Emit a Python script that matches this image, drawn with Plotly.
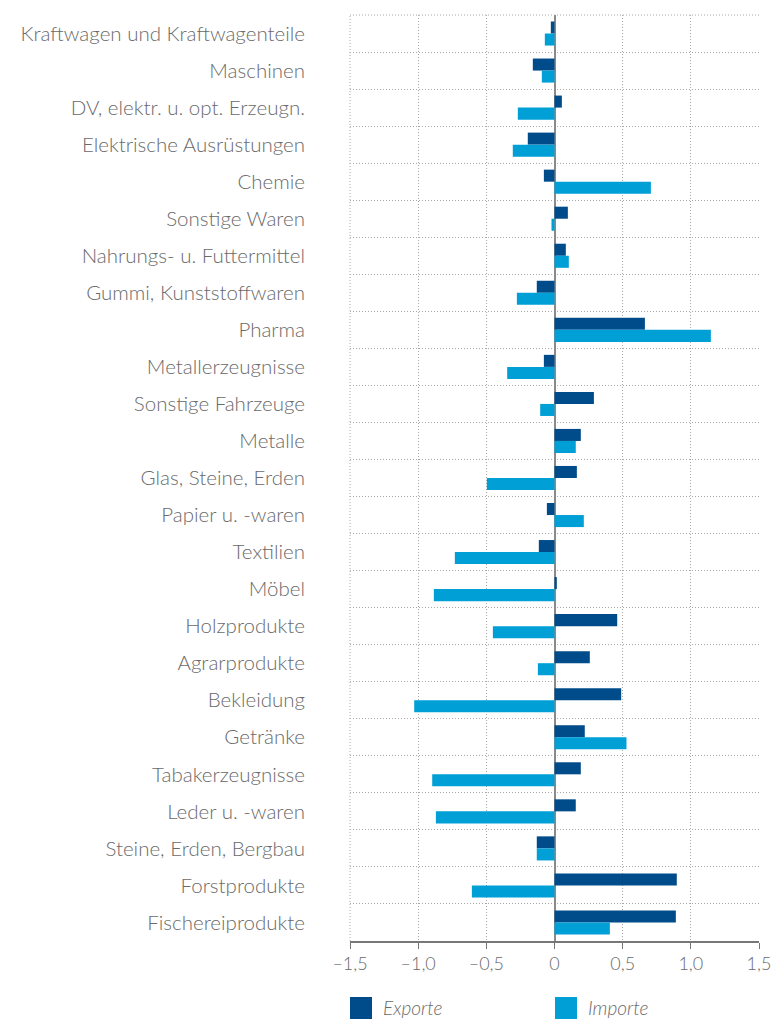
import plotly.graph_objects as go

categories = [
    "Kraftwagen und Kraftwagenteile", "Maschinen", "DV, elektr. u. opt. Erzeugn.",
    "Elektrische Ausrüstungen", "Chemie", "Sonstige Waren", "Nahrungs- u. Futtermittel",
    "Gummi, Kunststoffwaren", "Pharma", "Metallerzeugnisse", "Sonstige Fahrzeuge",
    "Metalle", "Glas, Steine, Erden", "Papier u. -waren", "Textilien", "Möbel",
    "Holzprodukte", "Agrarprodukte", "Bekleidung", "Getränke", "Tabakerzeugnisse",
    "Leder u. -waren", "Steine, Erden, Bergbau", "Forstprodukte", "Fischereiprodukte",
]
exporte = [-0.027, -0.159, 0.054, -0.196, -0.078, 0.098, 0.083, -0.13, 0.663, -0.078,
           0.289, 0.193, 0.164, -0.056, -0.115, 0.017, 0.46, 0.259, 0.489, 0.222,
           0.193, 0.156, -0.13, 0.897, 0.89]
importe = [-0.071, -0.093, -0.269, -0.306, 0.707, -0.022, 0.105, -0.276, 1.147, -0.347,
           -0.105, 0.156, -0.496, 0.215, -0.731, -0.885, -0.452, -0.122, -1.029, 0.528,
           -0.897, -0.870, -0.13, -0.606, 0.406]
tick_vals = [-1.5, -1.0, -0.5, 0, 0.5, 1.0, 1.5]
tick_text = ["–1,5", "–1,0", "–0,5", "0", "0,5", "1,0", "1,5"]
series_names = ["Exporte", "Importe"]
colors = ["#004C8A", "#009FD6"]

fig = go.Figure()
for name, vals, col in zip(series_names, [exporte, importe], colors):
    fig.add_trace(go.Bar(y=categories, x=vals, name=name, orientation="h",
                         marker=dict(color=col, line=dict(width=0)), showlegend=False))

W, H = 772, 1019
ml, mr, mt, mb = 350, 13, 15, 78
pw, ph = W - ml - mr, H - mt - mb
txt = "#6a6a6a"
grid = "#a8a8a8"
gdash = "1px,2px"
fig.update_layout(
    width=W, height=H,
    margin=dict(l=ml, r=mr, t=mt, b=mb, autoexpand=False),
    barmode="group", bargap=0.35, bargroupgap=0,
    plot_bgcolor="white", paper_bgcolor="white",
    font=dict(family="Lato", color=txt, size=20, weight=300),
)
fig.update_xaxes(
    range=[-1.5, 1.5], tickvals=tick_vals, ticktext=tick_text, automargin=False,
    showgrid=True, gridcolor=grid, griddash=gdash, gridwidth=1,
    zeroline=True, zerolinecolor="#8a8a8a", zerolinewidth=2,
    showline=True, linecolor="#777777", linewidth=1.5,
    ticks="outside", ticklen=6, tickcolor="#777777",
    tickfont=dict(family="Lato", size=18, color=txt, weight=300),
)
fig.update_yaxes(
    autorange="reversed", type="category", tickson="boundaries", automargin=False,
    showgrid=True, gridcolor=grid, griddash=gdash, gridwidth=1,
    ticks="", ticklabelstandoff=44,
    tickfont=dict(family="Lato", size=20.5, color=txt, weight=300),
)

# top and left dotted frame lines
fig.add_shape(type="line", xref="paper", yref="paper", x0=0, x1=1, y0=1, y1=1,
              line=dict(color=grid, width=1, dash=gdash))
fig.add_shape(type="line", xref="paper", yref="paper", x0=0, x1=0, y0=0, y1=1,
              line=dict(color=grid, width=1, dash=gdash))

# legend drawn as squares + labels at the bottom
for i, (name, col) in enumerate(zip(series_names, colors)):
    x0 = 0 if i == 0 else 205 / pw
    fig.add_shape(type="rect", xref="paper", yref="paper",
                  x0=x0, x1=x0 + 22 / pw, y0=-78 / ph, y1=-56 / ph,
                  fillcolor=col, line=dict(width=0))
    fig.add_annotation(xref="paper", yref="paper", x=x0 + 31 / pw, y=-67 / ph,
                       text=f"<i>{name}</i>", showarrow=False, xanchor="left", yanchor="middle",
                       font=dict(family="Lato", size=19, color=txt, weight=300))

fig.write_html("out.html", config={"displayModeBar": False},
               post_script="document.body.style.margin='0px';")
